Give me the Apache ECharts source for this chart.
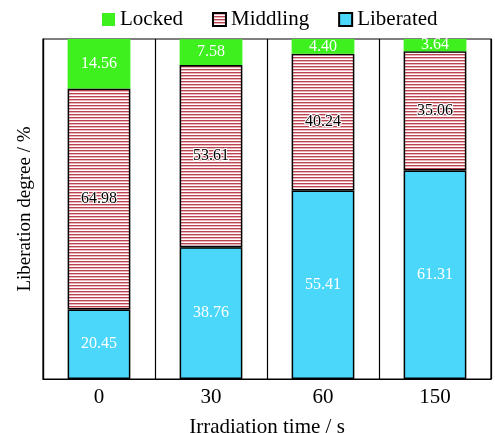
<!DOCTYPE html>
<html><head><meta charset="utf-8">
<script src="https://cdn.jsdelivr.net/npm/echarts@6/dist/echarts.min.js"></script>
<style>html,body{margin:0;padding:0;background:#fff}#c{width:495px;height:433px}</style>
</head><body><div id="c"></div>
<script>
var categories = ['0', '30', '60', '150'];
var locked = [14.56, 7.58, 4.40, 3.64];
var middling = [64.98, 53.61, 40.24, 35.06];
var liberated = [20.45, 38.76, 55.41, 61.31];
var seriesNames = ['Locked', 'Middling', 'Liberated'];

var FONT = 'Liberation Serif';
var pc = document.createElement('canvas');
pc.width = 4; pc.height = 3;
var ctx = pc.getContext('2d');
ctx.fillStyle = '#ffffff'; ctx.fillRect(0, 0, 4, 3);
ctx.fillStyle = '#b84452'; ctx.fillRect(0, 0, 4, 1);
ctx.fillStyle = '#e9b3b9'; ctx.fillRect(0, 1, 4, 1);

var chart = echarts.init(document.getElementById('c'));
chart.setOption({
  animation: false,
  textStyle: { fontFamily: FONT },
  legend: {
    data: seriesNames, top: 9, left: 102, padding: 0, itemGap: 29,
    itemWidth: 13, itemHeight: 13, icon: 'rect',
    textStyle: { fontFamily: FONT, fontSize: 21, color: '#000', fontWeight: 'normal' }
  },
  grid: { left: 43, right: 4, top: 39, bottom: 54, outerBoundsMode: 'none', containLabel: false,
    show: true, borderColor: '#000', borderWidth: 1.2 },
  xAxis: {
    type: 'category', data: categories,
    name: 'Irradiation time / s', nameLocation: 'middle', nameGap: 38,
    nameTextStyle: { fontFamily: FONT, fontSize: 21, color: '#000' },
    axisLine: { lineStyle: { color: '#000', width: 1.2 } },
    axisTick: { show: false },
    axisLabel: { fontFamily: FONT, fontSize: 21, color: '#000', margin: 8 },
    splitLine: { show: true, lineStyle: { color: '#000', width: 1.2 } }
  },
  yAxis: {
    type: 'value', min: 0, max: 100,
    name: 'Liberation degree / %', nameLocation: 'middle', nameGap: 8,
    nameTextStyle: { fontFamily: FONT, fontSize: 19, color: '#000' },
    axisLine: { show: true, lineStyle: { color: '#000', width: 1.2 } },
    axisTick: { show: false }, axisLabel: { show: false }, splitLine: { show: false }
  },
  series: [
    {
      name: 'Liberated', type: 'bar', stack: 's', data: liberated, barWidth: '56%',
      itemStyle: { color: '#4bd7fa', borderColor: '#000', borderWidth: 1.5 },
      label: { show: true, position: 'inside', color: '#fff', fontFamily: FONT, fontSize: 16,
        formatter: function (p) { return p.value.toFixed(2); } }
    },
    {
      name: 'Middling', type: 'bar', stack: 's', data: middling,
      itemStyle: { color: { image: pc, repeat: 'repeat' }, borderColor: '#000', borderWidth: 1.5 },
      label: { show: true, position: 'inside', color: '#000', fontFamily: FONT, fontSize: 16,
        textBorderColor: '#fff', textBorderWidth: 2,
        formatter: function (p) { return p.value.toFixed(2); } }
    },
    {
      name: 'Locked', type: 'bar', stack: 's', data: locked,
      itemStyle: { color: '#3ef01e' },
      label: { show: true, position: 'inside', color: '#fff', fontFamily: FONT, fontSize: 16,
        formatter: function (p) { return p.value.toFixed(2); } }
    }
  ]
});
</script></body></html>
